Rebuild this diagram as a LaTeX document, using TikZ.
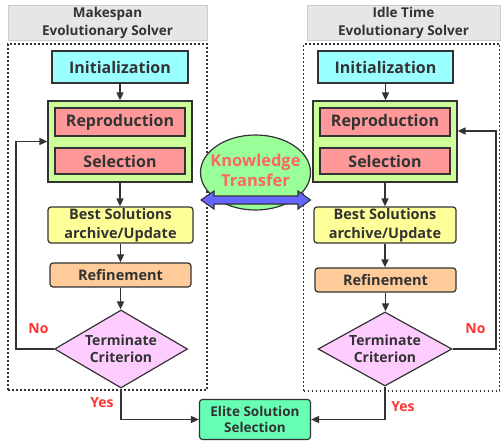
\documentclass[tikz,border=0pt]{standalone}
\usepackage{fontspec}
\setmainfont{Open Sans}
\usetikzlibrary{arrows.meta,shapes.geometric}
\definecolor{linec}{HTML}{333333}
\definecolor{textc}{HTML}{333333}
\definecolor{titlefill}{HTML}{E6E6E6}
\definecolor{titledraw}{HTML}{CCCCCC}
\definecolor{cyanc}{HTML}{99FFFF}
\definecolor{greenc}{HTML}{CCFF99}
\definecolor{pinkc}{HTML}{FF9999}
\definecolor{yellowc}{HTML}{FFFF99}
\definecolor{orangec}{HTML}{FFCC99}
\definecolor{violetc}{HTML}{FFCCFF}
\definecolor{elitec}{HTML}{66FFB3}
\definecolor{ellc}{HTML}{99FF99}
\definecolor{ktc}{HTML}{FF6666}
\definecolor{bluec}{HTML}{6666FF}
\definecolor{redc}{HTML}{FF3333}
\begin{document}
\begin{tikzpicture}[x=1pt,y=-1pt,
  box/.style={draw=linec, line width=1.2pt, inner sep=0pt, align=center, text=textc},
  titlebox/.style={draw=titledraw, fill=titlefill, line width=1pt, inner sep=0pt, align=center, text=textc,
     font=\fontsize{13.5}{18}\selectfont\bfseries},
  frame/.style={draw=linec, line width=1.6pt, dash pattern=on 1.6pt off 2.4pt, inner sep=0pt},
  bigf/.style={font=\fontsize{16}{19}\selectfont\bfseries},
  midf/.style={font=\fontsize{14.5}{19}\selectfont\bfseries},
  arr/.style={draw=linec, line width=1.6pt, -{Triangle[length=8pt,width=7pt]}},
  lbl/.style={text=redc, font=\fontsize{14}{16}\selectfont\bfseries, inner sep=0pt}
]
\useasboundingbox (0,0) rectangle (501,447);

% titles and frames
\node[titlebox, minimum width=199pt, minimum height=35pt] (titleL) at (107.5,22.5) {Makespan\\Evolutionary Solver};
\node[titlebox, minimum width=193pt, minimum height=35pt] (titleR) at (403.5,22.5) {Idle Time\\Evolutionary Solver};
\node[frame, minimum width=199pt, minimum height=346pt] (frameL) at (107.5,217) {};
\node[frame, minimum width=196pt, minimum height=347pt] (frameR) at (401.5,217.5) {};

% left column
\node[box, fill=cyanc, bigf, minimum width=136pt, minimum height=32pt] (initL) at (120,67) {Initialization};
\node[box, fill=greenc, minimum width=144pt, minimum height=81pt] (greenL) at (120,141.5) {};
\node[box, fill=pinkc, bigf, minimum width=130pt, minimum height=28pt] (reproL) at (120,122) {Reproduction};
\node[box, fill=pinkc, bigf, minimum width=130pt, minimum height=26pt] (selL) at (120,161) {Selection};
\node[box, fill=yellowc, midf, rounded corners=3pt, minimum width=145pt, minimum height=36pt] (bestL) at (120.5,225) {Best Solutions\\archive/Update};
\node[box, fill=orangec, midf, rounded corners=3pt, minimum width=141pt, minimum height=24pt] (refL) at (120.5,275) {Refinement};
\node[box, fill=violetc, diamond, aspect=1.7, font=\fontsize{14}{17}\selectfont\bfseries, minimum width=133pt, minimum height=78pt] (diaL) at (121,349) {Terminate\\Criterion};

% right column
\node[box, fill=cyanc, bigf, minimum width=135pt, minimum height=32pt] (initR) at (385.5,67) {Initialization};
\node[box, fill=greenc, minimum width=144pt, minimum height=81pt] (greenR) at (385,141.5) {};
\node[box, fill=pinkc, bigf, minimum width=130pt, minimum height=28pt] (reproR) at (385,122) {Reproduction};
\node[box, fill=pinkc, bigf, minimum width=130pt, minimum height=26pt] (selR) at (385,161) {Selection};
\node[box, fill=yellowc, midf, rounded corners=3pt, minimum width=142pt, minimum height=36pt] (bestR) at (385,225) {Best Solutions\\archive/Update};
\node[box, fill=orangec, midf, rounded corners=3pt, minimum width=141pt, minimum height=24pt] (refR) at (385.5,280) {Refinement};
\node[box, fill=violetc, diamond, aspect=1.8, font=\fontsize{14}{17}\selectfont\bfseries, minimum width=134pt, minimum height=74pt] (diaR) at (385,349) {Terminate\\Criterion};

% elite
\node[box, fill=elitec, rounded corners=3pt, font=\fontsize{13.5}{16}\selectfont\bfseries, minimum width=111pt, minimum height=40pt] (elite) at (255,419.5) {Elite Solution\\Selection};

% knowledge transfer
\node[ellipse, draw=linec, line width=1.2pt, fill=ellc, minimum width=110pt, minimum height=75pt] (kt) at (255.5,172.5) {};
\node[text=ktc, align=center, inner sep=0pt, font=\fontsize{16.5}{19.5}\selectfont\bfseries] (ktext) at (255.5,170.5) {Knowledge\\Transfer};
\draw[fill=bluec, draw=linec, line width=1.1pt, line join=miter]
  (201,200) -- (214,191) -- (214,196) -- (298,196) -- (298,191) -- (310.5,200)
  -- (298,209) -- (298,204) -- (214,204) -- (214,209) -- cycle;

% connectors left
\draw[arr] (initL.south) -- (initL.south |- greenL.north);
\draw[arr] (greenL.south) -- (greenL.south |- bestL.north);
\draw[arr] (bestL.south) -- (bestL.south |- refL.north);
\draw[arr] (refL.south) -- (refL.south |- diaL.north);
\coordinate (loopL) at (16,349);
\draw[arr] (diaL.west) -- (loopL) |- (greenL.west);
\draw[arr] (diaL.south) |- (elite.west);

% connectors right
\draw[arr] (initR.south) -- (initR.south |- greenR.north);
\draw[arr] (greenR.south) -- (greenR.south |- bestR.north);
\draw[arr] (bestR.south) -- (bestR.south |- refR.north);
\draw[arr] (refR.south) -- (refR.south |- diaR.north);
\coordinate (loopR) at (496,349);
\draw[arr] (diaR.east) -- (loopR) |- ([yshift=10.5pt]greenR.east);
\draw[arr] (diaR.south) |- (elite.east);

% labels
\node[lbl] (noL) at (38.5,328.5) {No};
\node[lbl] (noR) at (475.5,328.5) {No};
\node[lbl] (yesL) at (102,403) {Yes};
\node[lbl] (yesR) at (403,406.5) {Yes};
\end{tikzpicture}
\end{document}
